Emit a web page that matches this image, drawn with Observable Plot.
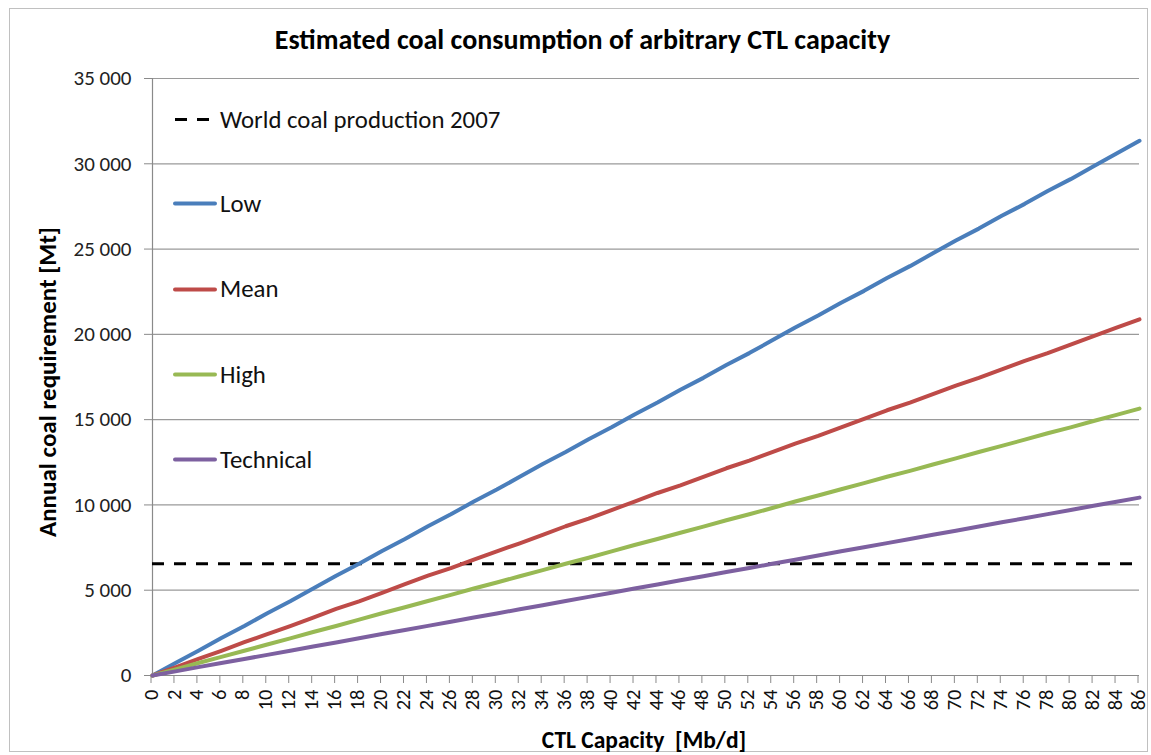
<!DOCTYPE html>
<html>
<head>
<meta charset="utf-8">
<script src="https://cdn.jsdelivr.net/npm/d3@7"></script>
<script src="https://cdn.jsdelivr.net/npm/@observablehq/plot@0.6"></script>
<style>
  html, body { margin: 0; padding: 0; background: #fff; }
  #wrap { position: relative; width: 1151px; height: 755px; overflow: hidden; font-family: Carlito, Calibri, Lato, "Noto Sans", sans-serif; color: #000; }
  #border { position: absolute; left: 9px; top: 8px; width: 1139px; height: 744px; border: 1px solid #c0c0c0; box-sizing: border-box; }
  #title { position: absolute; left: 7px; width: 1151px; top: 40px; transform: translateY(-50%); text-align: center; font-weight: bold; font-size: 28px; line-height: 1; }
  #ytitle { position: absolute; left: 47px; top: 382px; transform: translate(-50%, -50%) rotate(-90deg); font-weight: bold; font-size: 25px; white-space: nowrap; line-height: 1; }
  #xtitle { position: absolute; left: 644px; top: 741px; transform: translate(-50%, -50%); font-weight: bold; font-size: 23.5px; white-space: nowrap; line-height: 1; }
  #chart { position: absolute; left: 0; top: 0; }
  .leg { position: absolute; left: 173px; display: flex; align-items: center; font-size: 24.8px; white-space: nowrap; transform: translateY(-50%); line-height: 1; color: #111; }
  .leg svg { display: block; margin-right: 3px; }
</style>
</head>
<body>
<div id="wrap">
  <div id="border"></div>
  <div id="chart"></div>
  <div id="title">Estimated coal consumption of arbitrary CTL capacity</div>
  <div id="ytitle">Annual coal requirement [Mt]</div>
  <div id="xtitle">CTL Capacity&nbsp; [Mb/d]</div>
  <div id="legend"></div>
</div>
<script>
// ---- data ----
const capacity = [0,2,4,6,8,10,12,14,16,18,20,22,24,26,28,30,32,34,36,38,40,42,44,46,48,50,52,54,56,58,60,62,64,66,68,70,72,74,76,78,80,82,84,86];
const low = [0,730,1450,2200,2900,3650,4350,5100,5850,6550,7300,8000,8750,9450,10200,10900,11650,12400,13100,13850,14550,15300,16000,16750,17450,18200,18900,19650,20400,21100,21850,22550,23300,24000,24750,25500,26200,26950,27650,28400,29100,29850,30600,31350];
const mean = [0,480,970,1450,1950,2430,2900,3400,3900,4350,4850,5350,5850,6300,6800,7280,7750,8250,8750,9200,9700,10200,10700,11150,11650,12150,12600,13100,13600,14050,14550,15050,15550,16000,16500,17000,17450,17950,18450,18900,19400,19900,20400,20880];
const high = [0,360,730,1090,1450,1820,2180,2550,2900,3280,3650,4000,4370,4730,5100,5450,5820,6180,6550,6900,7280,7650,8000,8370,8730,9100,9450,9820,10200,10550,10920,11280,11650,12000,12370,12730,13100,13460,13830,14200,14550,14920,15280,15650];
const technical = [0,240,490,730,970,1210,1450,1700,1940,2180,2430,2670,2910,3150,3400,3640,3880,4120,4370,4610,4850,5100,5340,5580,5820,6070,6300,6550,6790,7030,7280,7520,7760,8000,8250,8490,8730,8980,9220,9460,9700,9950,10190,10430];
const worldCoal2007 = 6550;
const seriesNames = ["Low", "Mean", "High", "Technical"];
const seriesValues = [low, mean, high, technical];
const seriesColors = ["#4A7EBB", "#BE4B48", "#98B954", "#7D60A0"];
const xTicks = [0,2,4,6,8,10,12,14,16,18,20,22,24,26,28,30,32,34,36,38,40,42,44,46,48,50,52,54,56,58,60,62,64,66,68,70,72,74,76,78,80,82,84,86];
const yTicks = [0,5000,10000,15000,20000,25000,30000,35000];
const worldLabel = "World coal production 2007";

const rows = [];
seriesNames.forEach((s, i) => capacity.forEach((c, j) => rows.push({series: s, x: c, y: seriesValues[i][j]})));

const fmt = d => d3.format(",")(d).replace(/,/g, " ");

const fontFamily = "Carlito, Calibri, Lato, 'Noto Sans', sans-serif";

const plot = Plot.plot({
  width: 1151,
  height: 755,
  marginLeft: 152,
  marginRight: 12,
  marginTop: 78,
  marginBottom: 80,
  style: { fontFamily, fontSize: "21px", color: "#000", background: "transparent", overflow: "visible" },
  x: { domain: [0, 86] },
  y: { domain: [0, 35000] },
  marks: [
    Plot.gridY(yTicks, { stroke: "#9a9a9a", strokeOpacity: 1, strokeWidth: 1.2 }),
    Plot.ruleX([0], { stroke: "#8a8a8a", strokeWidth: 1.2 }),
    Plot.ruleY([0], { stroke: "#8a8a8a", strokeWidth: 1.2 }),
    Plot.axisY(yTicks, { tickSize: 8, tickPadding: 13, tickFormat: fmt, stroke: "#8a8a8a", fill: "#222", label: null, fontSize: 21 }),
    Plot.axisX(xTicks, { tickSize: 8, tickPadding: 6, tickRotate: -90, stroke: "#8a8a8a", fill: "#111", label: null, fontSize: 20.5, dx: -1.5 }),
    Plot.ruleY([worldCoal2007], { x1: 0, x2: 86, stroke: "#000", strokeWidth: 3, strokeDasharray: "12,10" }),
    ...seriesNames.map((s, i) => Plot.line(rows.filter(r => r.series === s), {
      x: "x", y: "y", stroke: seriesColors[i], strokeWidth: 4, strokeLinecap: "round", strokeLinejoin: "round"
    }))
  ]
});
document.getElementById("chart").appendChild(plot);

// legend (inside the plot, at left)
const legendItems = [
  { name: worldLabel, color: "#000", dash: "12,10", top: 120 },
  ...seriesNames.map((s, i) => ({ name: s, color: seriesColors[i], dash: null, top: 204 + i * 85.3 }))
];
const legend = document.getElementById("legend");
legendItems.forEach(it => {
  const div = document.createElement("div");
  div.className = "leg";
  div.style.top = it.top + "px";
  const svg = `<svg width="44" height="8"><line x1="2" y1="4" x2="42" y2="4" stroke="${it.color}" stroke-width="${it.dash ? 3 : 4}" ${it.dash ? `stroke-dasharray="${it.dash}"` : ""} stroke-linecap="${it.dash ? "butt" : "round"}"/></svg>`;
  div.innerHTML = svg + `<span>${it.name}</span>`;
  legend.appendChild(div);
});
</script>
</body>
</html>
